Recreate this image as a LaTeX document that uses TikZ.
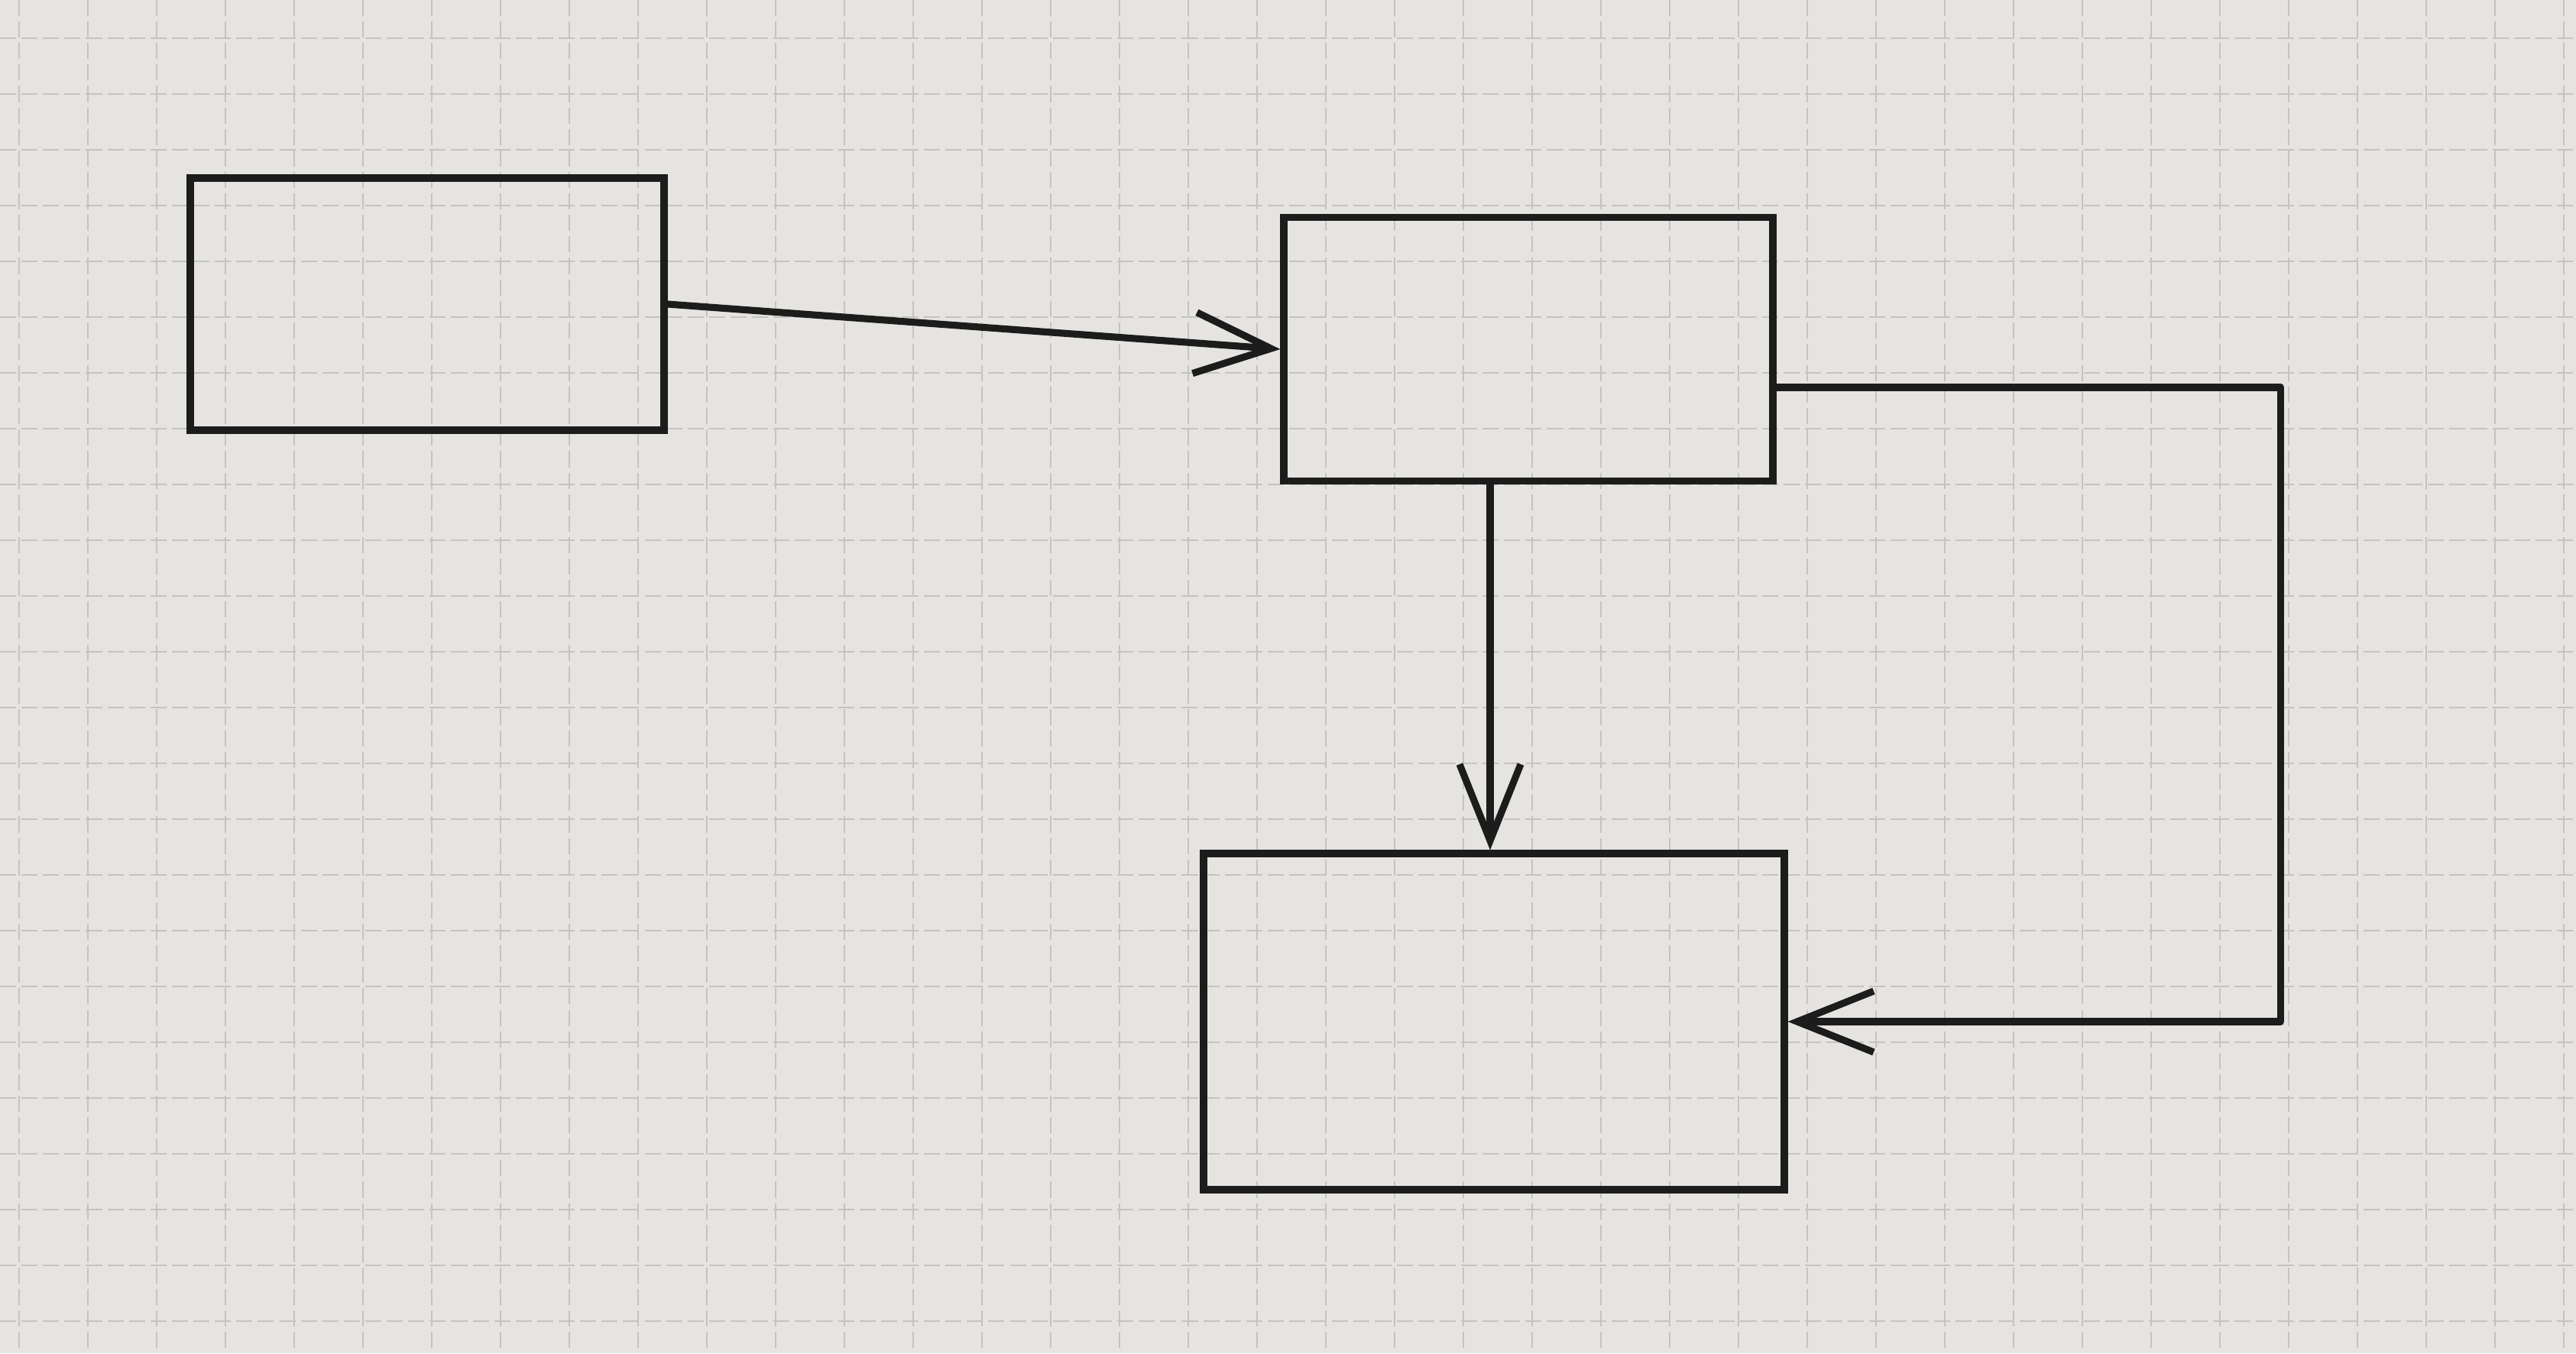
\documentclass[tikz,border=0pt]{standalone}
\usepackage{tikz}
\usetikzlibrary{arrows.meta,positioning,calc}

\definecolor{paper}{RGB}{230,228,224}
\definecolor{gridgray}{RGB}{196,195,192}
\definecolor{ink}{RGB}{28,28,28}

\tikzset{
  box/.style={draw=ink, line width=2.6pt, rectangle, inner sep=0pt},
  arr/.style={draw=ink, line width=2.6pt, line join=round,
    -{Straight Barb[length=10mm,width=8mm]}}
}

\begin{document}
\begin{tikzpicture}
% Paper and grid
\useasboundingbox (0,0) rectangle (33.71,-17.71);
\fill[paper] (0,0) rectangle (33.71,-17.71);
\foreach \x in {0.25,1.15,...,33.7} {
    \draw[gridgray, line width=0.8pt, dash pattern=on 6pt off 2pt] (\x,0) -- (\x,-17.71);
}
\foreach \y in {-0.5,-1.23,...,-17.7} {
    \draw[gridgray, line width=0.8pt, dash pattern=on 6pt off 2pt] (0,\y) -- (33.71,\y);
}

% Boxes
\node[box, minimum width=6.2cm, minimum height=3.3cm] (src) at (5.59,-3.98) {};
\node[box, minimum width=6.4cm, minimum height=3.45cm] (mid) at (20.0,-4.57) {};
\node[box, minimum width=7.6cm, minimum height=4.4cm] (dst) at (19.55,-13.37) {};

% Connectors
\draw[arr] (src.east) -- (mid.west);
\draw[arr] ([xshift=-5mm]mid.south) -- ([xshift=-5mm]mid.south |- dst.north);
\draw[arr] ([yshift=-5mm]mid.east) -- ++(6.6,0) |- (dst.east);
\end{tikzpicture}
\end{document}
